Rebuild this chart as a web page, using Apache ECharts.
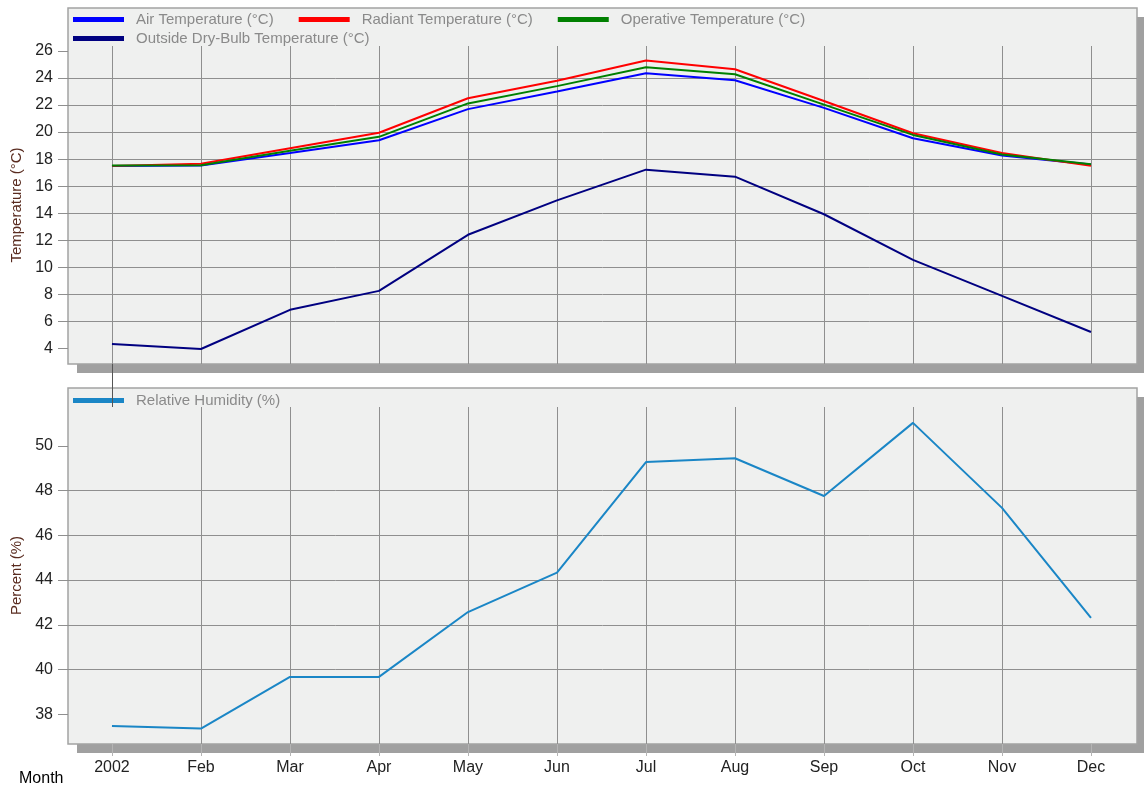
<!DOCTYPE html>
<html>
<head>
<meta charset="utf-8">
<title>Monthly Temperatures and Relative Humidity</title>
<script src="https://cdn.jsdelivr.net/npm/echarts@6/dist/echarts.min.js"></script>
<style>
  html, body { margin: 0; padding: 0; background: #ffffff; }
  #chart { width: 1144px; height: 787px; }
</style>
</head>
<body>
<div id="chart"></div>
<script>
// Month categories (first tick shows the year)
const monthLabels = ['2002', 'Feb', 'Mar', 'Apr', 'May', 'Jun', 'Jul', 'Aug', 'Sep', 'Oct', 'Nov', 'Dec'];

// Temperatures (°C)
const airTemperature       = [17.50, 17.52, 18.45, 19.40, 21.70, 23.00, 24.35, 23.84, 21.79, 19.54, 18.26, 17.60];
const radiantTemperature   = [17.50, 17.65, 18.80, 19.95, 22.50, 23.80, 25.29, 24.65, 22.30, 19.91, 18.45, 17.50];
const operativeTemperature = [17.52, 17.55, 18.62, 19.65, 22.12, 23.40, 24.80, 24.28, 22.03, 19.79, 18.34, 17.62];
const outsideDryBulb       = [4.32, 3.95, 6.85, 8.25, 12.40, 14.95, 17.22, 16.70, 13.92, 10.55, 7.88, 5.21];

// Relative humidity (%)
const relativeHumidity = [37.48, 37.36, 39.67, 39.67, 42.57, 44.33, 49.28, 49.45, 47.76, 51.03, 47.23, 42.31];

// Tick labels
const temperatureTicks = [4, 6, 8, 10, 12, 14, 16, 18, 20, 22, 24, 26];
const humidityTicks = [38, 40, 42, 44, 46, 48, 50];
const monthTicks = monthLabels.map((_, i) => i);

const pairs = arr => arr.map((v, i) => [i, v]);

const FONT = '"Liberation Sans", Arial, sans-serif';
const GRID_LINE = '#8f8f8f';
const PANEL_BG = '#eff0ef';
const PANEL_BORDER = '#a3a3a3';
const SHADOW = '#a0a0a0';

// Panel frames (plot area boxes with drop shadow)
const panelLeft = 68, panelRight = 1137;
const topPanel = { y: 8, h: 356 };
const bottomPanel = { y: 388, h: 356 };
const shadowOffset = 9;

function panelGraphics(p) {
  return [
    { type: 'rect', z: -20, silent: true,
      shape: { x: panelLeft + shadowOffset, y: p.y + shadowOffset, width: panelRight - panelLeft, height: p.h },
      style: { fill: SHADOW } },
    { type: 'rect', z: -10, silent: true,
      shape: { x: panelLeft, y: p.y, width: panelRight - panelLeft, height: p.h },
      style: { fill: PANEL_BG, stroke: PANEL_BORDER, lineWidth: 1.5 } }
  ];
}

const xMin = -0.494, xMax = 11.517;

function xAxisCfg(gridIndex, showLabels) {
  return {
    type: 'value', gridIndex: gridIndex, min: xMin, max: xMax,
    minInterval: 1, maxInterval: 1, splitNumber: 12,
    axisLine: { show: false, onZero: false },
    axisTick: showLabels
      ? { show: true, inside: false, length: 12, customValues: monthTicks, lineStyle: { color: '#b4b4b4' } }
      : { show: false },
    axisLabel: showLabels
      ? { show: true, customValues: monthTicks, margin: 16, fontFamily: FONT, fontSize: 16, color: '#222',
          formatter: v => monthLabels[Math.round(v)] }
      : { show: false },
    splitLine: { show: true, showMinLine: false, showMaxLine: false, lineStyle: { color: GRID_LINE, width: 1 } }
  };
}

function yAxisCfg(gridIndex, min, max, ticks, name) {
  return {
    type: 'value', gridIndex: gridIndex, min: min, max: max,
    minInterval: 2, maxInterval: 2, splitNumber: 12,
    name: name, nameLocation: 'middle', nameGap: 38, nameRotate: 90,
    nameTextStyle: { fontFamily: FONT, fontSize: 15, color: '#5a2c20' },
    axisLine: { show: false, onZero: false },
    axisTick: { show: true, inside: false, length: 10, customValues: ticks, lineStyle: { color: GRID_LINE } },
    axisLabel: { show: true, customValues: ticks, margin: 15, fontFamily: FONT, fontSize: 16, color: '#222' },
    splitLine: { show: true, showMinLine: false, showMaxLine: false, lineStyle: { color: GRID_LINE, width: 1 } }
  };
}

function lineSeries(name, data, color, xi, yi) {
  return {
    name: name, type: 'line', xAxisIndex: xi, yAxisIndex: yi,
    data: pairs(data), showSymbol: false, symbol: 'none',
    lineStyle: { color: color, width: 2 }, itemStyle: { color: color },
    emphasis: { disabled: true }, animation: false
  };
}

const legendText = { fontFamily: FONT, fontSize: 15, color: '#8a8a8a', padding: [0, 0, 0, 7] };
const legendBase = { icon: 'rect', itemWidth: 51, itemHeight: 5, itemGap: 25, padding: 0,
  textStyle: legendText, selectedMode: false };

const chart = echarts.init(document.getElementById('chart'), null, { renderer: 'canvas' });

const option = {
  animation: false,
  backgroundColor: '#ffffff',
  title: {
    text: 'Month', left: 14, top: 766,
    textStyle: { fontFamily: FONT, fontSize: 16, fontWeight: 'normal', color: '#000' }
  },
  legend: [
    Object.assign({ left: 73, top: 12, orient: 'horizontal',
      data: ['Air Temperature (°C)', 'Radiant Temperature (°C)', 'Operative Temperature (°C)'] }, legendBase),
    Object.assign({ left: 73, top: 31, orient: 'horizontal',
      data: ['Outside Dry-Bulb Temperature (°C)'] }, legendBase),
    Object.assign({ left: 73, top: 393, orient: 'horizontal',
      data: ['Relative Humidity (%)'] }, legendBase)
  ],
  grid: [
    { left: panelLeft, right: 1144 - panelRight, top: 46, height: 318 },
    { left: panelLeft, right: 1144 - panelRight, top: 407, height: 337 }
  ],
  xAxis: [xAxisCfg(0, false), xAxisCfg(1, true)],
  yAxis: [
    yAxisCfg(0, 2.84, 26.37, temperatureTicks, 'Temperature (°C)'),
    yAxisCfg(1, 36.67, 51.74, humidityTicks, 'Percent (%)')
  ],
  series: [
    lineSeries('Air Temperature (°C)', airTemperature, '#0000ff', 0, 0),
    lineSeries('Radiant Temperature (°C)', radiantTemperature, '#ff0000', 0, 0),
    lineSeries('Operative Temperature (°C)', operativeTemperature, '#008000', 0, 0),
    lineSeries('Outside Dry-Bulb Temperature (°C)', outsideDryBulb, '#000080', 0, 0),
    lineSeries('Relative Humidity (%)', relativeHumidity, '#1a86c6', 1, 1)
  ],
  graphic: { elements: panelGraphics(topPanel).concat(panelGraphics(bottomPanel)) }
};

chart.setOption(option);

// Cursor line at the first month joining the two panels
const cursorX = chart.convertToPixel({ xAxisIndex: 0 }, 0);
chart.setOption({
  graphic: {
    elements: panelGraphics(topPanel).concat(panelGraphics(bottomPanel)).concat([
      { type: 'line', z: 10, silent: true,
        shape: { x1: Math.round(cursorX) + 0.5, y1: topPanel.y + topPanel.h, x2: Math.round(cursorX) + 0.5, y2: 407 },
        style: { stroke: '#555555', lineWidth: 1 } }
    ])
  }
});
</script>
</body>
</html>
